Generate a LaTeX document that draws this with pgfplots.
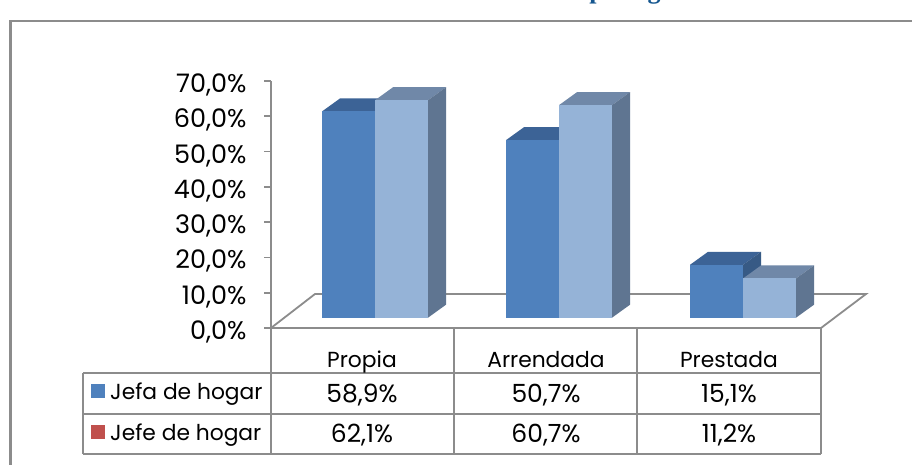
\documentclass[border=0pt]{standalone}
\usepackage{pgfplots}
\pgfplotsset{compat=1.18}
\usepackage{fontspec}
\setmainfont{Poppins}[Numbers=Monospaced]
\newfontfamily\titlefont{Liberation Serif}[BoldFont={Liberation Serif Bold}]
\definecolor{gr}{HTML}{8C8C8C}
\definecolor{ttl}{HTML}{14568F}
\definecolor{jefa}{HTML}{4F81BD}
\definecolor{jefaTop}{HTML}{3C6396}
\definecolor{jefaSide}{HTML}{375A85}
\definecolor{jefe}{HTML}{95B3D7}
\definecolor{jefeTop}{HTML}{7088A8}
\definecolor{jefeSide}{HTML}{5F7591}
\definecolor{jeferef}{HTML}{C0504D}
\newcommand{\tblfont}{\fontsize{21.8}{24}\selectfont}
\newcommand{\numfont}{\fontsize{25}{28}\selectfont}
% one 3D bar: x-left, x-right, value, front, top, side colours
\newcommand{\threedbar}[6]{%
  \pgfmathsetmacro{\tp}{#3*0.992+2.92}%
  \pgfmathsetmacro{\tq}{#3*0.992+2.92+3.68}%
  \pgfmathsetmacro{\xr}{#2+18}%
  \pgfmathsetmacro{\xs}{#1+18}%
  \addplot[fill=#5,draw=none,forget plot] coordinates {(#1,\tp)(#2,\tp)(\xr,\tq)(\xs,\tq)} -- cycle;
  \addplot[fill=#6,draw=none,forget plot] coordinates {(#2,2.92)(\xr,6.6)(\xr,\tq)(#2,\tp)} -- cycle;
  \addplot[fill=#4,draw=none,forget plot] coordinates {(#1,2.92)(#2,2.92)(#2,\tp)(#1,\tp)} -- cycle;
}
\begin{document}
\begin{tikzpicture}[x=1pt,y=-1pt]
\useasboundingbox (0,0) rectangle (912,465);
\clip (0,0) rectangle (912,465);
\fill[white] (0,0) rectangle (912,465);
% clipped title
\node[font=\titlefont\bfseries\fontsize{26}{28}\selectfont,text=ttl,anchor=base] at (625,-1) {p\hspace{44pt}g};
% outer frame
\draw[gr,line width=2.6pt] (10.5,480) -- (10.5,21) -- (930,21);
% floor
\draw[gr,line width=1.8pt] (271,328) -- (315,294) -- (866,294) -- (821,328);
\begin{axis}[
  at={(271pt,-328pt)},anchor=south west,
  scale only axis,x=1pt,y=3.53pt,
  xmin=271,xmax=821,ymin=0,ymax=70,
  clip=false,
  axis x line=none,
  axis y line*=left,
  axis line style={gr,line width=1.8pt,-},
  ytick={0,10,...,70},
  tick style={gr,line width=1.8pt},
  ytick align=outside,
  major tick length=7pt,
  yticklabel={\pgfmathprintnumber{\tick}\%},
  /pgf/number format/.cd,fixed,fixed zerofill,precision=1,use comma,assume math mode=true,
  /pgfplots/yticklabel style={font=\fontsize{25.5}{26}\selectfont,text=black,anchor=east,xshift=-14pt,yshift=-4pt},
]
\threedbar{322}{375}{58.9}{jefa}{jefaTop}{jefaSide}
\threedbar{375}{428}{62.1}{jefe}{jefeTop}{jefeSide}
\threedbar{506}{559}{50.7}{jefa}{jefaTop}{jefaSide}
\threedbar{559}{612}{60.7}{jefe}{jefeTop}{jefeSide}
\threedbar{690}{743}{15.1}{jefa}{jefaTop}{jefaSide}
\threedbar{743}{796}{11.2}{jefe}{jefeTop}{jefeSide}
\end{axis}
% data table
\draw[gr,line width=2.6pt] (271,328) -- (821,328);
\draw[gr,line width=2.6pt] (83,373) -- (821,373);
\draw[gr,line width=2.6pt] (83,414) -- (821,414);
\draw[gr,line width=2.6pt] (83,454) -- (821,454);
\draw[gr,line width=2.6pt] (83,373) -- (83,454);
\draw[gr,line width=2.6pt] (271,328) -- (271,454);
\draw[gr,line width=2.6pt] (454,328) -- (454,454);
\draw[gr,line width=2.6pt] (637,328) -- (637,454);
\draw[gr,line width=2.6pt] (821,328) -- (821,454);
\fill[jefa] (91,384) rectangle (105,398);
\fill[jeferef] (91,425) rectangle (105,439);
\tikzset{c/.style={font=\tblfont,anchor=base,text=black,inner sep=0pt},n/.style={font=\numfont,anchor=base,text=black,inner sep=0pt}}
\node[c] at (362,367) {Propia};
\node[c] at (546,367) {Arrendada};
\node[c] at (729,367) {Prestada};
\node[c,anchor=base west] at (110,399) {Jefa de hogar};
\node[c,anchor=base west] at (110,440) {Jefe de hogar};
\node[n] at (362,402) {58,9\%};
\node[n] at (546,402) {50,7\%};
\node[n] at (729,402) {15,1\%};
\node[n] at (362,442) {62,1\%};
\node[n] at (546,442) {60,7\%};
\node[n] at (729,442) {11,2\%};
\end{tikzpicture}
\end{document}
